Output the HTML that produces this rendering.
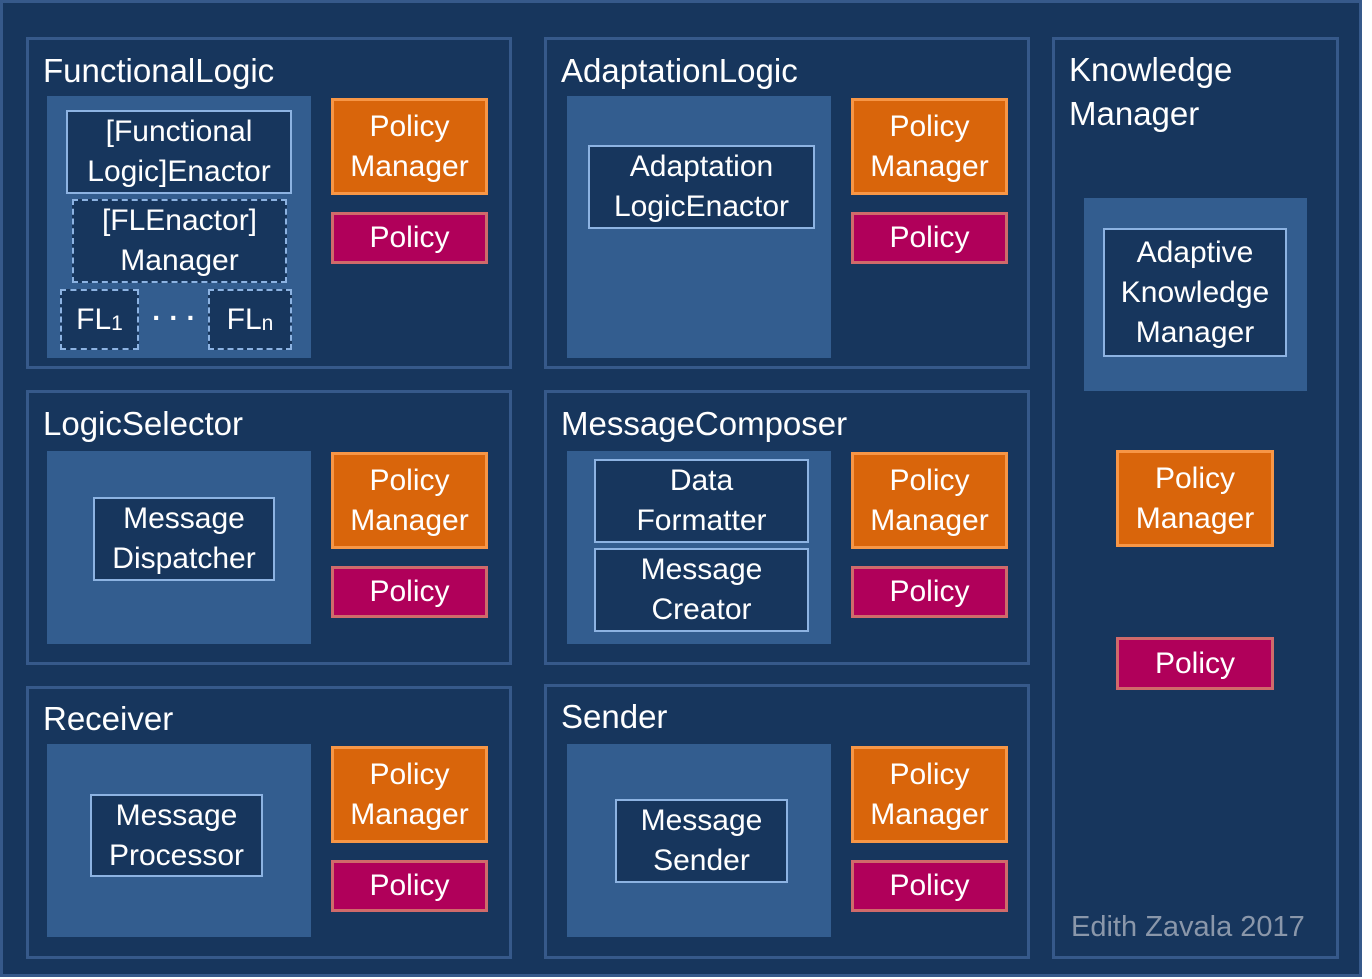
<!DOCTYPE html>
<html><head><meta charset="utf-8"><style>
body{margin:0;width:1372px;height:979px;background:#fff;position:relative;overflow:hidden;font-family:"Liberation Sans",sans-serif;color:#fff}
div{position:absolute;box-sizing:border-box}
.bg{left:0;top:0;width:1362px;height:977px;background:#17365d;border:3px solid #36598a}
.p{border:3px solid #36598a;background:#17365d}
.t{font-size:33px;white-space:nowrap;line-height:1}
.f{background:#335d8f}
.c{display:flex;align-items:center;justify-content:center;text-align:center;font-size:30px;line-height:40px;white-space:nowrap}
.b{border:2px solid #8db3e2;background:#17365d}
.d{border:2px dashed #8db3e2;background:#17365d}
.pm{background:#d9650b;border:3px solid #f79646}
.po{background:#b0005a;border:3px solid #d06a6a}
</style></head><body>
<div class="bg"></div>

<!-- FunctionalLogic -->
<div class="p" style="left:26px;top:37px;width:486px;height:332px"></div>
<div class="t" style="left:43px;top:54px">FunctionalLogic</div>
<div class="f" style="left:47px;top:96px;width:264px;height:262px"></div>
<div class="c b" style="left:66px;top:110px;width:226px;height:84px">[Functional<br>Logic]Enactor</div>
<div class="c d" style="left:72px;top:199px;width:215px;height:84px">[FLEnactor]<br>Manager</div>
<div class="c d" style="left:60px;top:289px;width:79px;height:61px">FL<span style="font-size:21px;position:relative;top:4px">1</span></div>
<div class="c" style="left:140px;top:300px;width:68px;height:36px;font-size:28px;font-weight:bold">· · ·</div>
<div class="c d" style="left:208px;top:289px;width:84px;height:61px">FL<span style="font-size:21px;position:relative;top:4px">n</span></div>
<div class="c pm" style="left:331px;top:98px;width:157px;height:97px">Policy<br>Manager</div>
<div class="c po" style="left:331px;top:212px;width:157px;height:52px">Policy</div>

<!-- AdaptationLogic -->
<div class="p" style="left:544px;top:37px;width:486px;height:332px"></div>
<div class="t" style="left:561px;top:54px">AdaptationLogic</div>
<div class="f" style="left:567px;top:96px;width:264px;height:262px"></div>
<div class="c b" style="left:588px;top:145px;width:227px;height:84px">Adaptation<br>LogicEnactor</div>
<div class="c pm" style="left:851px;top:98px;width:157px;height:97px">Policy<br>Manager</div>
<div class="c po" style="left:851px;top:212px;width:157px;height:52px">Policy</div>

<!-- Knowledge Manager -->
<div class="p" style="left:1052px;top:37px;width:287px;height:922px"></div>
<div class="t" style="left:1069px;top:48px;line-height:44px">Knowledge<br>Manager</div>
<div class="f" style="left:1084px;top:198px;width:223px;height:193px"></div>
<div class="c b" style="left:1103px;top:228px;width:184px;height:129px">Adaptive<br>Knowledge<br>Manager</div>
<div class="c pm" style="left:1116px;top:450px;width:158px;height:97px">Policy<br>Manager</div>
<div class="c po" style="left:1116px;top:637px;width:158px;height:53px">Policy</div>
<div style="left:1071px;top:911px;font-size:29px;color:#8a97aa;white-space:nowrap">Edith Zavala 2017</div>

<!-- LogicSelector -->
<div class="p" style="left:26px;top:390px;width:486px;height:275px"></div>
<div class="t" style="left:43px;top:407px">LogicSelector</div>
<div class="f" style="left:47px;top:451px;width:264px;height:193px"></div>
<div class="c b" style="left:93px;top:497px;width:182px;height:84px">Message<br>Dispatcher</div>
<div class="c pm" style="left:331px;top:452px;width:157px;height:97px">Policy<br>Manager</div>
<div class="c po" style="left:331px;top:566px;width:157px;height:52px">Policy</div>

<!-- MessageComposer -->
<div class="p" style="left:544px;top:390px;width:486px;height:275px"></div>
<div class="t" style="left:561px;top:407px">MessageComposer</div>
<div class="f" style="left:567px;top:451px;width:264px;height:193px"></div>
<div class="c b" style="left:594px;top:459px;width:215px;height:84px">Data<br>Formatter</div>
<div class="c b" style="left:594px;top:548px;width:215px;height:84px">Message<br>Creator</div>
<div class="c pm" style="left:851px;top:452px;width:157px;height:97px">Policy<br>Manager</div>
<div class="c po" style="left:851px;top:566px;width:157px;height:52px">Policy</div>

<!-- Receiver -->
<div class="p" style="left:26px;top:686px;width:486px;height:273px"></div>
<div class="t" style="left:43px;top:702px">Receiver</div>
<div class="f" style="left:47px;top:744px;width:264px;height:193px"></div>
<div class="c b" style="left:90px;top:794px;width:173px;height:83px">Message<br>Processor</div>
<div class="c pm" style="left:331px;top:746px;width:157px;height:97px">Policy<br>Manager</div>
<div class="c po" style="left:331px;top:860px;width:157px;height:52px">Policy</div>

<!-- Sender -->
<div class="p" style="left:544px;top:684px;width:486px;height:275px"></div>
<div class="t" style="left:561px;top:700px">Sender</div>
<div class="f" style="left:567px;top:744px;width:264px;height:193px"></div>
<div class="c b" style="left:615px;top:799px;width:173px;height:84px">Message<br>Sender</div>
<div class="c pm" style="left:851px;top:746px;width:157px;height:97px">Policy<br>Manager</div>
<div class="c po" style="left:851px;top:860px;width:157px;height:52px">Policy</div>
</body></html>
